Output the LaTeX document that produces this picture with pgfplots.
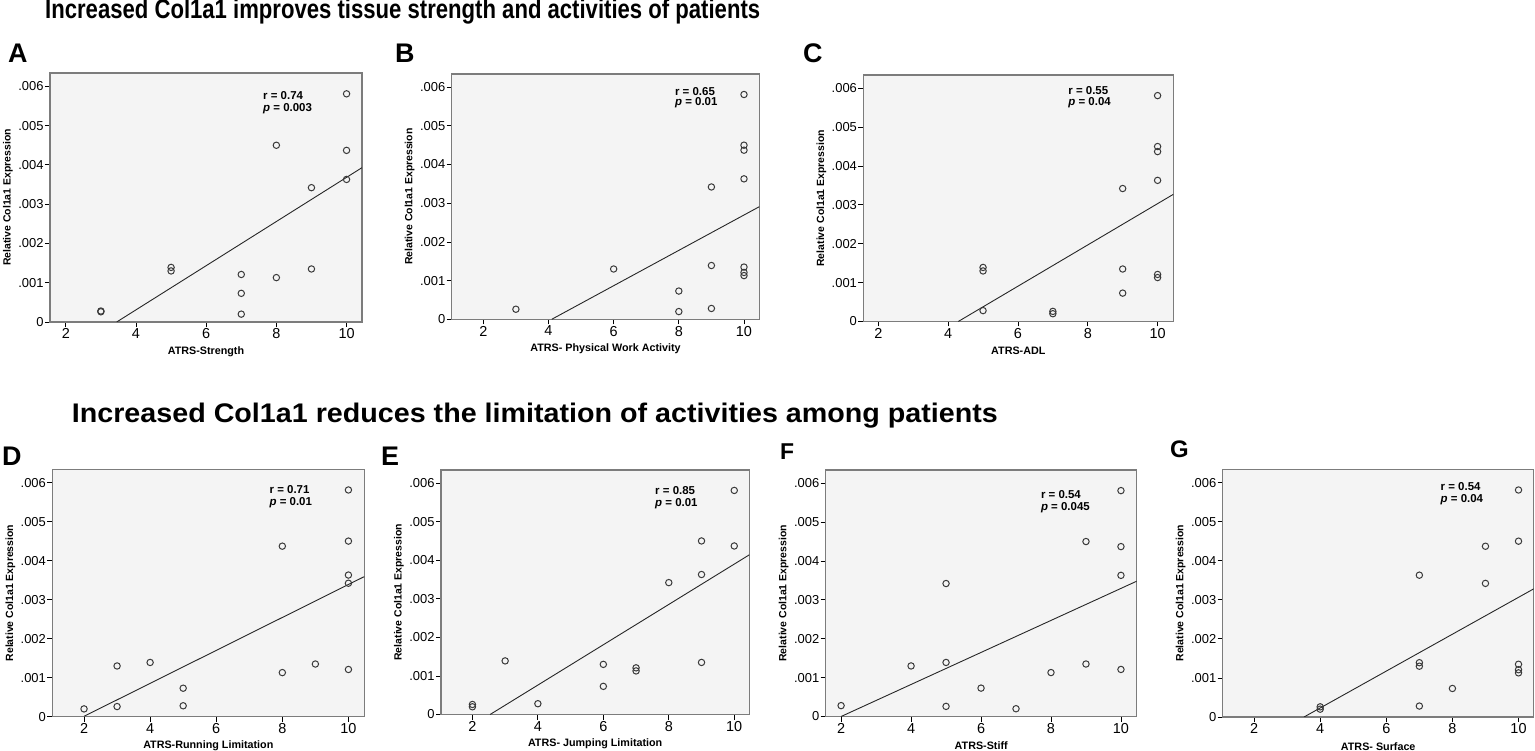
\documentclass[border=0pt]{standalone}
\usepackage{pgfplots}
\pgfplotsset{compat=1.18}
\usepackage{fontspec}
\setmainfont{Liberation Sans}
\usepackage{graphicx}
\definecolor{bgc}{HTML}{F4F4F4}
\definecolor{boxc}{HTML}{7C7C7C}
\definecolor{mk}{HTML}{3A3A3A}
\pgfplotsset{
  spss/.style={
    scale only axis,
    axis background/.style={fill=bgc},
    axis line style={draw=boxc, line width=1.2bp},
    ymin=0, ymax=0.00634,
    ytick={0,0.001,0.002,0.003,0.004,0.005,0.006},
    yticklabels={0,.001,.002,.003,.004,.005,.006},
    xtick={2,4,6,8,10}, xticklabels={2,4,6,8,10},
    scaled y ticks=false, scaled x ticks=false,
    tick align=outside, tick pos=left,
    major tick length=5bp,
    tick style={black, line width=0.8bp},
    /pgf/number format/assume math mode=true,
    xticklabel style={font=\fontsize{14.5}{14.5}\selectfont, inner sep=1.5bp},
    yticklabel style={font=\fontsize{13}{13}\selectfont, inner sep=1.2bp},
    every axis x label/.style={at={(axis description cs:0.5,0)}, yshift=-29.5bp, anchor=center, font=\bfseries\fontsize{10.8}{10.8}\selectfont},
    every axis y label/.style={at={(axis description cs:0,0.5)}, xshift=-42bp, rotate=90, anchor=center, font=\bfseries\fontsize{10.5}{10.5}\selectfont},
    ylabel={Relative Col1a1 Expression},
  },
  pts/.style={only marks, mark=o, mark size=3.2bp, mark options={draw=mk, line width=1bp}},
  reg/.style={black!85, line width=0.9bp, no marks},
}
\tikzset{ann/.style={anchor=west, inner sep=0pt, font=\bfseries\fontsize{11.5}{11.5}\selectfont}}
\begin{document}
\begin{tikzpicture}
\useasboundingbox (0,0) rectangle (1535bp,751bp);
% titles
\node[anchor=base west, inner sep=0pt] at (45bp,732bp) {\resizebox{715bp}{\height}{\bfseries\fontsize{27}{27}\selectfont Increased Col1a1 improves tissue strength and activities of patients}};
\node[anchor=base west, inner sep=0pt] at (71.7bp,328.3bp) {\resizebox{926bp}{\height}{\bfseries\fontsize{27}{27}\selectfont Increased Col1a1 reduces the limitation of activities among patients}};
% panel letters
\node[anchor=base west, inner sep=0pt, font=\bfseries\fontsize{27}{27}\selectfont] at (8bp,688bp) {A};
\node[anchor=base west, inner sep=0pt, font=\bfseries\fontsize{27}{27}\selectfont] at (395bp,688bp) {B};
\node[anchor=base west, inner sep=0pt, font=\bfseries\fontsize{27}{27}\selectfont] at (803bp,688bp) {C};
\node[anchor=base west, inner sep=0pt, font=\bfseries\fontsize{27}{27}\selectfont] at (2bp,285bp) {D};
\node[anchor=base west, inner sep=0pt, font=\bfseries\fontsize{27}{27}\selectfont] at (381bp,285bp) {E};
\node[anchor=base west, inner sep=0pt, font=\bfseries\fontsize{23}{23}\selectfont] at (780bp,291bp) {F};
\node[anchor=base west, inner sep=0pt, font=\bfseries\fontsize{24}{24}\selectfont] at (1170bp,293bp) {G};

% A
\begin{axis}[spss, at={(50bp,429bp)}, anchor=south west, width=312bp, height=249bp,
  xmin=1.55, xmax=10.44, xlabel={ATRS-Strength}]
\addplot[pts] coordinates {(3,0.00028) (3,0.00026) (5,0.00139) (5,0.00130) (7,0.00121) (7,0.00073) (7,0.00020) (8,0.00450) (8,0.00113) (9,0.00342) (9,0.00135) (10,0.00581) (10,0.00437) (10,0.00363)};
\addplot[reg] coordinates {(3.45,0) (10.44,0.00393)};
\node[ann] at (axis cs:7.62,0.00576) {r = 0.74};
\node[ann] at (axis cs:7.62,0.00542) {\textit{p} = 0.003};
\end{axis}

% B
\begin{axis}[spss, at={(451.7bp,431.7bp)}, anchor=south west, width=307.6bp, height=245.3bp,
  xmin=1.03, xmax=10.47, xlabel={ATRS- Physical Work Activity}]
\addplot[pts] coordinates {(3,0.00026) (6,0.00130) (8,0.00073) (8,0.00020) (9,0.00342) (9,0.00139) (9,0.00028) (10,0.00581) (10,0.00450) (10,0.00437) (10,0.00363) (10,0.00135) (10,0.00121) (10,0.00113)};
\addplot[reg] coordinates {(4.10,0) (10.47,0.00291)};
\node[ann] at (axis cs:7.88,0.00588) {r = 0.65};
\node[ann] at (axis cs:7.88,0.00560) {\textit{p} = 0.01};
\end{axis}

% C
\begin{axis}[spss, at={(863.3bp,429.5bp)}, anchor=south west, width=310bp, height=246.5bp,
  xmin=1.57, xmax=10.45, xlabel={ATRS-ADL}]
\addplot[pts] coordinates {(5,0.00139) (5,0.00130) (5,0.00028) (7,0.00026) (7,0.00020) (9,0.00342) (9,0.00135) (9,0.00073) (10,0.00581) (10,0.00450) (10,0.00437) (10,0.00363) (10,0.00121) (10,0.00113)};
\addplot[reg] coordinates {(4.29,0) (10.45,0.00327)};
\node[ann] at (axis cs:7.44,0.00593) {r = 0.55};
\node[ann] at (axis cs:7.44,0.00563) {\textit{p} = 0.04};
\end{axis}

% D
\begin{axis}[spss, at={(52.3bp,34.3bp)}, anchor=south west, width=312bp, height=247.4bp,
  xmin=1.04, xmax=10.48, xlabel={ATRS-Running Limitation}]
\addplot[pts] coordinates {(2,0.00020) (3,0.00130) (3,0.00026) (4,0.00139) (5,0.00073) (5,0.00028) (8,0.00437) (8,0.00113) (9,0.00135) (10,0.00581) (10,0.00450) (10,0.00363) (10,0.00342) (10,0.00121)};
\addplot[reg] coordinates {(2.0,0.00001) (10.48,0.00359)};
\node[ann] at (axis cs:7.61,0.00581) {r = 0.71};
\node[ann] at (axis cs:7.61,0.00548) {\textit{p} = 0.01};
\end{axis}

% E
\begin{axis}[spss, at={(441bp,36.5bp)}, anchor=south west, width=308.3bp, height=244.5bp,
  xmin=1.04, xmax=10.46, xlabel={ATRS- Jumping Limitation}]
\addplot[pts] coordinates {(2,0.00026) (2,0.00020) (3,0.00139) (4,0.00028) (6,0.00130) (6,0.00073) (7,0.00121) (7,0.00113) (8,0.00342) (9,0.00450) (9,0.00363) (9,0.00135) (10,0.00581) (10,0.00437)};
\addplot[reg] coordinates {(2.54,0) (10.46,0.00414)};
\node[ann] at (axis cs:7.58,0.00581) {r = 0.85};
\node[ann] at (axis cs:7.58,0.00546) {\textit{p} = 0.01};
\end{axis}

% F
\begin{axis}[spss, at={(825.7bp,34.5bp)}, anchor=south west, width=311bp, height=246.5bp,
  xmin=1.56, xmax=10.45, xlabel={ATRS-Stiff}]
\addplot[pts] coordinates {(2,0.00028) (4,0.00130) (5,0.00342) (5,0.00139) (5,0.00026) (6,0.00073) (7,0.00020) (8,0.00113) (9,0.00450) (9,0.00135) (10,0.00581) (10,0.00437) (10,0.00363) (10,0.00121)};
\addplot[reg] coordinates {(2.0,0) (10.45,0.00348)};
\node[ann] at (axis cs:7.71,0.00572) {r = 0.54};
\node[ann] at (axis cs:7.71,0.00536) {\textit{p} = 0.045};
\end{axis}

% G
\begin{axis}[spss, at={(1222.7bp,34bp)}, anchor=south west, width=311bp, height=247.7bp,
  xmin=1.05, xmax=10.46, xlabel={ATRS- Surface}]
\addplot[pts] coordinates {(4,0.00026) (4,0.00020) (7,0.00363) (7,0.00139) (7,0.00130) (7,0.00028) (8,0.00073) (9,0.00437) (9,0.00342) (10,0.00581) (10,0.00450) (10,0.00135) (10,0.00121) (10,0.00113)};
\addplot[reg] coordinates {(3.51,0) (10.46,0.00328)};
\node[ann] at (axis cs:7.64,0.00590) {r = 0.54};
\node[ann] at (axis cs:7.64,0.00557) {\textit{p} = 0.04};
\end{axis}
\end{tikzpicture}
\end{document}
